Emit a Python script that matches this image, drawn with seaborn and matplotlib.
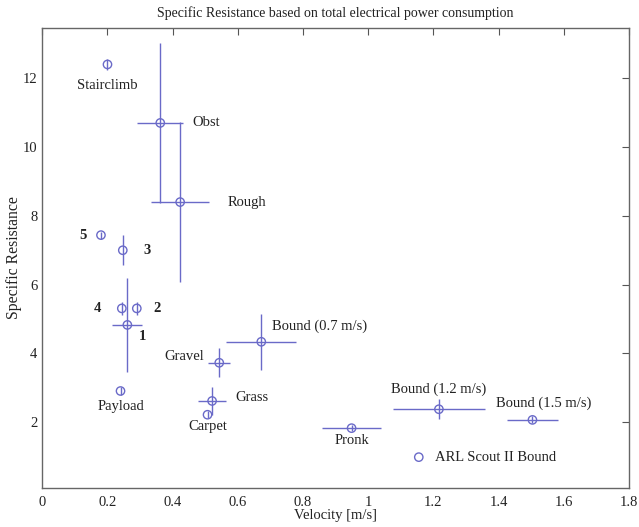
import matplotlib
matplotlib.use("Agg")
import matplotlib.pyplot as plt
import seaborn as sns
import pandas as pd

names = ["Stairclimb", "Obst", "Rough", "5", "3", "4", "2", "1", "Payload",
         "Gravel", "Bound (0.7 m/s)", "Grass", "Carpet", "Pronk",
         "Bound (1.2 m/s)", "Bound (1.5 m/s)"]
velocity = [0.200, 0.362, 0.423, 0.180, 0.247, 0.244, 0.290, 0.261, 0.240,
            0.543, 0.672, 0.521, 0.507, 0.949, 1.217, 1.504]
resistance = [12.40, 10.70, 8.40, 7.44, 7.00, 5.31, 5.31, 4.83, 2.91,
              3.73, 4.34, 2.62, 2.22, 1.83, 2.38, 2.07]
vel_err = [0.0, 0.070, 0.090, 0.0, 0.0, 0.0, 0.0, 0.046, 0.0,
           0.034, 0.108, 0.042, 0.0, 0.090, 0.140, 0.078]
res_err = [0.17, 2.33, 2.32, 0.10, 0.43, 0.20, 0.20, 1.37, 0.12,
           0.42, 0.82, 0.40, 0.10, 0.08, 0.29, 0.10]

# label anchor positions (data coords) and alignment
label_x = [0.200, 0.460, 0.570, 0.125, 0.320, 0.170, 0.352, 0.306, 0.240,
           0.497, 0.705, 0.591, 0.508, 0.950, 1.215, 1.539]
label_y = [11.80, 10.70, 8.40, 7.44, 7.00, 5.31, 5.31, 4.50, 2.45,
           3.92, 4.78, 2.71, 1.87, 1.48, 2.96, 2.55]
label_ha = ["center", "left", "left", "center", "center", "center", "center",
            "center", "center", "right", "left", "left", "center", "center",
            "center", "center"]
label_bold = [False, False, False, True, True, True, True, True, False,
              False, False, False, False, False, False, False]

df = pd.DataFrame({"Velocity": velocity, "Resistance": resistance})

sns.set_style("white")
plt.rcParams['font.family'] = ['Liberation Serif', 'DejaVu Serif']
plt.rcParams['xtick.direction'] = 'in'
plt.rcParams['ytick.direction'] = 'in'

c = '#6a6ac8'
txt = '#222222'

fig = plt.figure(figsize=(6.39, 5.27), dpi=100)
ax = fig.add_axes([0.0662, 0.0746, 0.918, 0.8717])

ax.errorbar(velocity, resistance, xerr=vel_err, yerr=res_err, fmt='none',
            ecolor=c, elinewidth=1.0, capsize=0, zorder=2)
sns.scatterplot(data=df, x="Velocity", y="Resistance", ax=ax, marker='o', s=36,
                facecolor='none', edgecolor=c, linewidth=1.0,
                label="ARL Scout II Bound", zorder=3)

for n, lx, ly, ha, b in zip(names, label_x, label_y, label_ha, label_bold):
    ax.text(lx, ly, n, ha=ha, va='center', fontsize=10.5, color=txt,
            fontweight='bold' if b else 'normal')

ax.set_xlim(0, 1.8)
ax.set_ylim(0.1, 13.45)
ax.set_xticks([0, 0.2, 0.4, 0.6, 0.8, 1.0, 1.2, 1.4, 1.6, 1.8])
ax.set_xticklabels(["0", "0.2", "0.4", "0.6", "0.8", "1", "1.2", "1.4", "1.6", "1.8"])
ax.set_yticks([2, 4, 6, 8, 10, 12])
ax.tick_params(axis='both', which='both', top=True, right=True, length=5,
               width=0.8, colors='#555555', labelcolor=txt, labelsize=10.5)
ax.tick_params(axis='x', pad=6)
ax.tick_params(axis='y', pad=3.5)
for s in ax.spines.values():
    s.set_color('#666666')
    s.set_linewidth(1.0)

ax.set_xlabel("Velocity [m/s]", fontsize=10.5, color=txt, labelpad=0)
ax.set_ylabel("Specific Resistance", fontsize=11.3, color=txt)
ax.yaxis.set_label_coords(-0.035, 0.5)
ax.set_title("Specific Resistance based on total electrical power consumption",
             fontsize=10, color=txt, pad=8)

leg = ax.legend(loc='center left', bbox_to_anchor=(0.607, 0.066), frameon=False,
                fontsize=10.5, handlelength=1.0, handletextpad=0.6,
                labelcolor=txt)

fig.savefig("out.png", dpi=100)
